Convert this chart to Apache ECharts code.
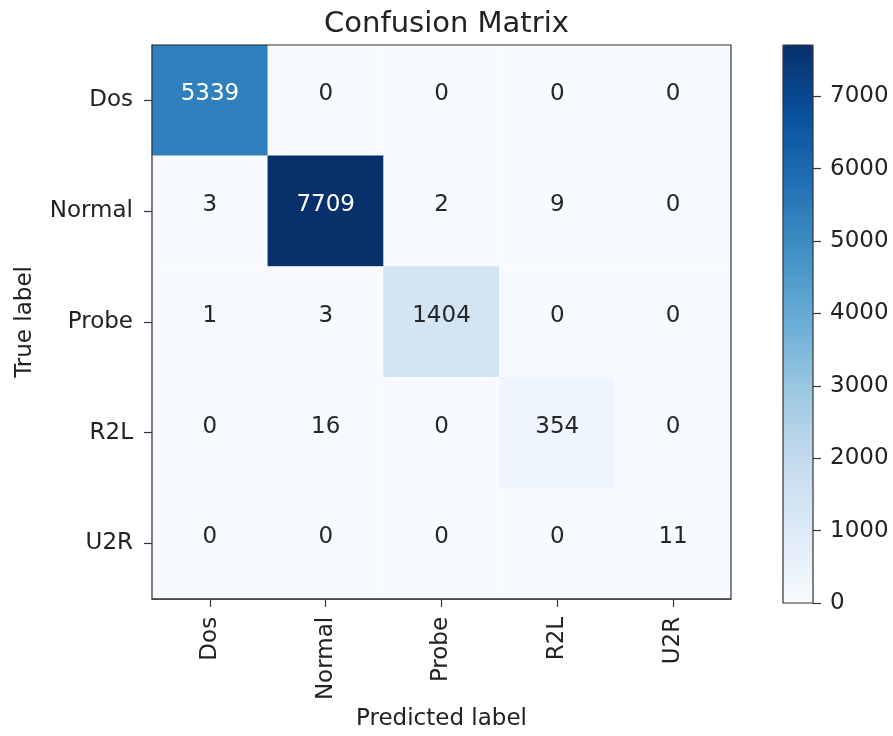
<!DOCTYPE html>
<html>
<head>
<meta charset="utf-8">
<script src="https://cdn.jsdelivr.net/npm/echarts@6/dist/echarts.min.js"></script>
<style>html,body{margin:0;padding:0;background:#fff;}#c{width:893px;height:736px;}</style>
</head>
<body>
<div id="c"></div>
<script>
const categories = ['Dos', 'Normal', 'Probe', 'R2L', 'U2R'];
const rowDos    = [5339, 0, 0, 0, 0];
const rowNormal = [3, 7709, 2, 9, 0];
const rowProbe  = [1, 3, 1404, 0, 0];
const rowR2L    = [0, 16, 0, 354, 0];
const rowU2R    = [0, 0, 0, 0, 11];
const matrixRows = [rowDos, rowNormal, rowProbe, rowR2L, rowU2R];
const colorbarTickMax = 7000;
const colorbarTickStep = 1000;
const titleText = 'Confusion Matrix';
const xName = 'Predicted label';
const yName = 'True label';

const FONT = 'DejaVu Sans';
const blues = ['#f7fbff','#deebf7','#c6dbef','#9ecae1','#6baed6','#4292c6','#2171b5','#08519c','#08306b'];
let vmax = 0;
matrixRows.forEach(r => r.forEach(v => { if (v > vmax) vmax = v; }));
const thresh = vmax / 2;
const data = [];
matrixRows.forEach((r, i) => r.forEach((v, j) => {
  data.push({ value: [j, i, v], label: { color: v > thresh ? '#ffffff' : '#262626' } });
}));

// colorbar geometry
const cbLeft = 783, cbTop = 45, cbW = 30, cbH = 558, cbTickLen = 8;
const tickH = cbH * colorbarTickMax / vmax;
const tickTop = cbTop + cbH - tickH;

const chart = echarts.init(document.getElementById('c'), null, { renderer: 'canvas' });
chart.setOption({
  backgroundColor: '#ffffff',
  animation: false,
  title: {
    text: titleText, left: 441.5, textAlign: 'center', top: 5,
    textStyle: { fontFamily: FONT, fontSize: 29, fontWeight: 'normal', color: '#222' }
  },
  grid: [
    { left: 152, top: 45, width: 579, height: 558, show: true, borderColor: '#333', borderWidth: 1.2, backgroundColor: 'transparent', containLabel: false, z: 5 },
    { left: cbLeft, top: cbTop, width: cbW, height: cbH, show: true, borderColor: '#333', borderWidth: 1.2, backgroundColor: 'transparent', containLabel: false, z: 5 },
    { left: cbLeft + cbW, top: tickTop, width: cbTickLen, height: tickH, show: false, containLabel: false }
  ],
  xAxis: [
    {
      type: 'category', data: categories, gridIndex: 0, position: 'bottom',
      name: xName, nameLocation: 'middle', nameGap: 105,
      nameTextStyle: { fontFamily: FONT, fontSize: 23, color: '#222' },
      axisLine: { show: true, lineStyle: { color: '#333', width: 1.2 } },
      axisTick: { show: true, alignWithLabel: true, length: 8, lineStyle: { color: '#333', width: 1.2 } },
      axisLabel: { rotate: 90, fontFamily: FONT, fontSize: 23, color: '#222', margin: 18 },
      splitLine: { show: false }
    },
    { type: 'value', gridIndex: 1, show: false, min: 0, max: 1 },
    { type: 'value', gridIndex: 2, show: false, min: 0, max: 1 }
  ],
  yAxis: [
    {
      type: 'category', data: categories, gridIndex: 0, inverse: true,
      name: yName, nameLocation: 'middle', nameGap: 115, nameRotate: 90,
      nameTextStyle: { fontFamily: FONT, fontSize: 23, color: '#222' },
      axisLine: { show: true, lineStyle: { color: '#333', width: 1.2 } },
      axisTick: { show: true, alignWithLabel: true, length: 8, lineStyle: { color: '#333', width: 1.2 } },
      axisLabel: { fontFamily: FONT, fontSize: 23, color: '#222', margin: 19 },
      splitLine: { show: false }
    },
    { type: 'value', gridIndex: 1, show: false, min: 0, max: vmax },
    {
      type: 'value', gridIndex: 2, position: 'right', min: 0, max: colorbarTickMax, interval: colorbarTickStep,
      axisLine: { show: false },
      axisTick: { show: false },
      axisLabel: { fontFamily: FONT, fontSize: 23, color: '#222', margin: 9, formatter: v => String(v) },
      splitLine: { show: true, lineStyle: { color: '#333', width: 1.2, type: 'solid' } }
    }
  ],
  visualMap: {
    type: 'continuous', seriesIndex: 0, min: 0, max: vmax, calculable: false,
    orient: 'vertical', left: cbLeft, top: cbTop, itemWidth: cbW, itemHeight: cbH, padding: 0,
    text: null, showLabel: false, hoverLink: false,
    inRange: { color: blues }
  },
  series: [{
    type: 'heatmap', xAxisIndex: 0, yAxisIndex: 0, data: data,
    label: { show: true, fontFamily: FONT, fontSize: 23, offset: [0, -6] },
    emphasis: { disabled: true },
    itemStyle: { borderWidth: 0 }
  }]
});
</script>
</body>
</html>
